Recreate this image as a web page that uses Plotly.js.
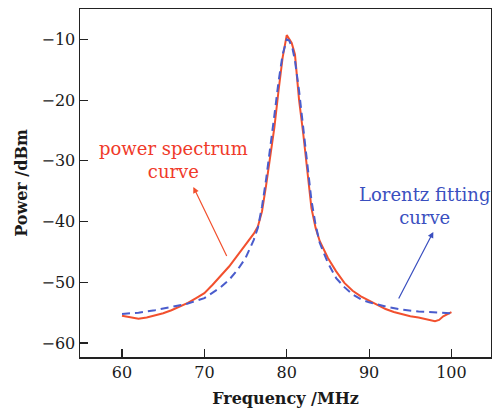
<!DOCTYPE html>
<html><head><meta charset="utf-8">
<script src="https://cdn.plot.ly/plotly-3.0.1.min.js"></script>
<style>body{margin:0;background:#fff}#c{width:492px;height:410px}</style>
</head><body><div id="c"></div>
<script>
const specX = [60,61,62,63,64,65,66,67,68,69,70,71,72,73,74,75,76,76.5,77,77.5,78,78.5,79,79.5,80,80.3,80.6,81,81.5,82,82.5,83,83.5,84,85,86,87,88,89,90,91,92,93,94,95,96,97,98,98.5,99,100];
const specY = [-55.5,-55.8,-56.0,-55.8,-55.5,-55.1,-54.6,-54.0,-53.4,-52.6,-51.8,-50.4,-48.9,-47.4,-45.6,-43.8,-42.0,-40.8,-38.3,-34.0,-29.0,-24.5,-18.5,-13.0,-9.3,-10.0,-10.6,-12.5,-20.0,-25.5,-32.0,-37.8,-41.0,-43.2,-46.0,-48.2,-50.1,-51.4,-52.3,-53.0,-53.8,-54.4,-54.9,-55.3,-55.6,-55.8,-56.1,-56.4,-56.2,-55.6,-54.9];
const fitX = [60,62,64,66,68,70,72,73,74,75,76,76.5,77,77.5,78,78.5,79,79.5,80,80.3,80.7,81,81.5,82,82.5,83,83.5,84,85,86,87,88,89,90,92,94,96,98,100];
const fitY = [-55.2,-55.0,-54.6,-54.1,-53.5,-52.6,-50.8,-49.6,-48.0,-46.0,-43.0,-41.0,-37.5,-33.0,-28.0,-22.5,-17.0,-12.5,-10.0,-10.2,-11.5,-13.5,-18.5,-24.5,-31.0,-36.5,-40.5,-43.5,-46.8,-49.3,-50.8,-52.0,-52.8,-53.3,-54.0,-54.5,-54.8,-55.0,-55.1];
const xTicks = [60,70,80,90,100];
const yTicks = [-60,-50,-40,-30,-20,-10];
const serif = 'DejaVu Serif';
const red = '#f2502e', blue = '#4a5ccc';
const traces = [
  {x: specX, y: specY, mode: 'lines', line: {color: red, width: 2}, name: 'power spectrum curve'},
  {x: fitX, y: fitY, mode: 'lines', line: {color: blue, width: 2, dash: '8px,5px'}, name: 'Lorentz fitting curve'}
];
const ax = {showgrid: false, zeroline: false, showline: true, mirror: true, linecolor: '#222', linewidth: 1.5,
  ticks: 'inside', ticklen: 8, tickwidth: 1.2, tickcolor: '#222', tickfont: {family: serif, size: 16, color: '#1a1a1a'}};
const layout = {
  width: 492, height: 410, margin: {l: 80, r: 1, t: 9, b: 53},
  paper_bgcolor: '#fff', plot_bgcolor: '#fff', showlegend: false,
  xaxis: Object.assign({}, ax, {range: [54.9, 104.8], tickvals: xTicks,
    title: {text: 'Frequency /MHz', font: {family: serif, size: 16, color: '#1a1a1a', weight: 'bold'}, standoff: 12}}),
  yaxis: Object.assign({}, ax, {range: [-62.3, -5], tickvals: yTicks, ticktext: yTicks.map(v => '\u2212' + Math.abs(v)),
    title: {text: 'Power /dBm', font: {family: serif, size: 16, color: '#1a1a1a', weight: 'bold'}, standoff: 10}}),
  annotations: [
    {x: 66.3, y: -29.9, xref: 'x', yref: 'y', text: 'power spectrum<br>curve', showarrow: false,
      font: {family: serif, size: 18, color: '#f03a2a'}},
    {x: 96.7, y: -37.5, xref: 'x', yref: 'y', text: 'Lorentz fitting<br>curve', showarrow: false,
      font: {family: serif, size: 18, color: '#3a4fbf'}},
    {x: 68.66, y: -34.3, ax: 72.8, ay: -45.9, xref: 'x', yref: 'y', axref: 'x', ayref: 'y', text: '',
      showarrow: true, arrowhead: 2, arrowsize: 1, arrowwidth: 1.2, arrowcolor: '#f2502e'},
    {x: 97.8, y: -41.7, ax: 93.5, ay: -52.9, xref: 'x', yref: 'y', axref: 'x', ayref: 'y', text: '',
      showarrow: true, arrowhead: 2, arrowsize: 1, arrowwidth: 1.2, arrowcolor: '#3a4fbf'}
  ]
};
Plotly.newPlot('c', traces, layout, {displayModeBar: false, staticPlot: true});
</script></body></html>
